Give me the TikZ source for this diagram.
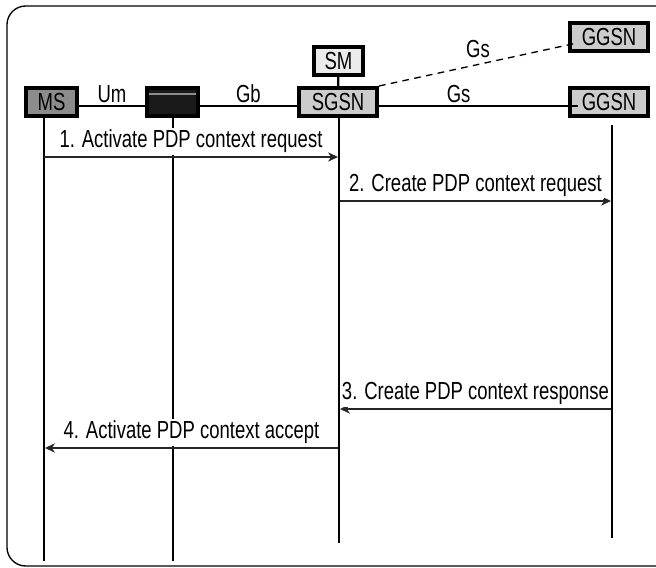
\documentclass[tikz,border=0pt]{standalone}
\usepackage{fontspec}
\setmainfont{Liberation Sans}[FakeStretch=0.75]
\usetikzlibrary{arrows,arrows.meta,positioning}

\begin{document}
\begin{tikzpicture}
[x=0.75pt,y=-0.75pt,
 box/.style={draw=black,line width=3pt,inner sep=0pt,minimum height=21pt,font=\fontsize{18.5}{20}\selectfont},
 life/.style={line width=1.6pt},
 link/.style={line width=1.6pt},
 msg/.style={-{Stealth[length=7.5pt,width=7pt]},line width=1pt,draw=black!85},
 lbl/.style={font=\fontsize{18.5}{20}\selectfont,inner sep=1.5pt,fill=white}]
\useasboundingbox (0,0) rectangle (656,567);
\draw [line width=1pt,rounded corners=14] (7,6) rectangle (690,566);

\node[box,fill=black!45,minimum width=38pt] (ms) at (51.5,102) {MS};
\node[box,fill=black!90,minimum width=38pt] (bss) at (172.5,102) {};
\node[box,fill=black!20,minimum width=58.5pt] (sgsn) at (338,102) {SGSN};
\node[box,fill=black!8,minimum width=37pt] (sm) at (338.5,61) {SM};
\node[box,fill=black!20,minimum width=58.5pt] (ggsn) at (609,102) {GGSN};
\node[box,fill=black!20,minimum width=58.5pt] (ggsn2) at (609,37.5) {GGSN};
\draw [black!45,line width=1pt] ([xshift=3pt,yshift=-6pt]bss.north west) -- ([xshift=-3pt,yshift=-6pt]bss.north east);

% links between the nodes
\draw [link] (ms.east |- 0,106) -- node[lbl,above,fill=none] {Um} (bss.west |- 0,106);
\draw [link] (bss.east |- 0,106) -- node[lbl,above,fill=none] {Gb} (sgsn.west |- 0,106);
\draw [link] (sgsn.east |- 0,106) -- node[lbl,above,fill=none,pos=0.4] {Gs} (578,106);
\draw [link] (sm) -- (sgsn);
\draw [dash pattern=on 5pt off 4pt,line width=1pt] (sgsn.north east) -- node[lbl,above,fill=none,pos=0.5,yshift=3pt] {Gs} (577,43);

% lifelines
\coordinate (msend) at (44,561);
\coordinate (bssend) at (173,561);
\coordinate (sgsnend) at (339,543);
\coordinate (ggsntop) at (612,125);
\coordinate (ggsnend) at (612,538);
\draw [life] (ms.south -| msend) -- (msend);
\draw [life] (bss.south -| bssend) -- (bssend);
\draw [life] (sgsn.south -| sgsnend) -- (sgsnend);
\draw [life] (ggsntop) -- (ggsnend);

% messages
\coordinate (m1a) at (44,157);  \coordinate (m1b) at (338,157);
\coordinate (m2a) at (340,201); \coordinate (m2b) at (611,201);
\coordinate (m3a) at (611,409); \coordinate (m3b) at (340,409);
\coordinate (m4a) at (338,448); \coordinate (m4b) at (45,448);
\draw [msg] (m1a) -- node[lbl,above=1pt] {1. Activate PDP context request} (m1b);
\draw [msg] (m2a) -- node[lbl,above=1pt] {2. Create PDP context request} (m2b);
\draw [msg] (m3a) -- node[lbl,above=1pt] {3. Create PDP context response} (m3b);
\draw [msg] (m4a) -- node[lbl,above=1pt] {4. Activate PDP context accept} (m4b);
\end{tikzpicture}
\end{document}
